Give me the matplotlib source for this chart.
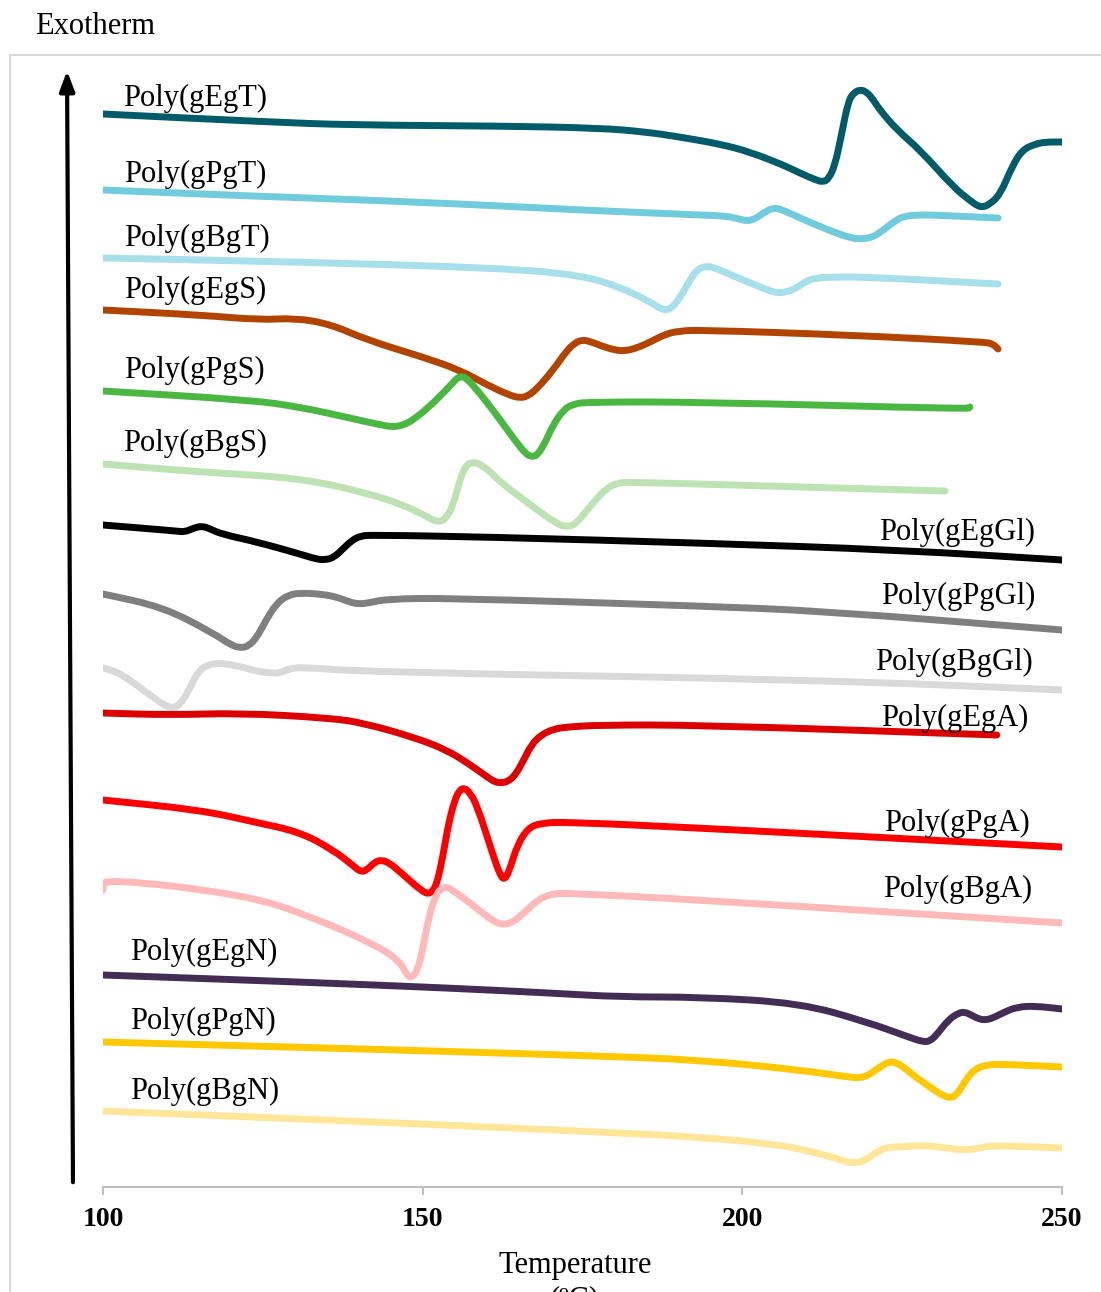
import matplotlib.pyplot as plt
from matplotlib.patches import Rectangle, PathPatch
from matplotlib.path import Path

# DSC traces, temperature (C) and vertical position (a.u., drawn downward)
gEgT_t = [100, 126.1, 138.6, 162.1, 177.7, 185.0, 190.2, 196.5, 201.2, 206.4, 209.0, 211.5, 212.6, 213.5,
          214.5, 215.5, 216.6, 217.6, 218.4, 219.2, 220.2, 221.5, 224.2, 227.8, 233.0, 235.5, 236.8,
          237.6, 238.5, 240.3, 242.3, 243.8, 245.8, 247.5, 250]
gEgT_y = [114, 122, 125, 126, 128, 132, 137, 144, 152, 165, 173, 180, 182, 179,
          165, 135, 100, 92, 90, 91, 97, 110, 130, 150, 187, 200, 206,
          207, 205, 195, 165, 150, 144, 142, 142]

gPgT_t = [100, 123.0, 149.6, 174.6, 193.4, 197.5, 199.5, 200.7, 202.0, 203.5, 204.8, 206.0, 209.0,
          214.2, 217.0, 218.4, 220.0, 221.5, 224.0, 225.5, 227.5, 229.8, 240]
gPgT_y = [190, 196, 202, 210, 215, 216, 219, 221, 219, 212, 208, 209, 218,
          232, 238, 239, 238, 233, 220, 216, 215, 215, 218]

gBgT_t = [100, 130.8, 162.1, 174.6, 180.9, 185.6, 187.3, 188.3, 189.3, 190.6, 191.8, 193.0, 194.4,
          195.8, 199.0, 203.9, 205.5, 206.9, 208.5, 210.0, 211.5, 214.0, 219.5, 240]
gBgT_y = [258, 262, 268, 275, 287, 302, 309, 310, 306, 294, 280, 269, 266,
          268, 277, 290, 293, 292, 288, 281, 278, 277, 277, 284]

gEgS_t = [100, 115.2, 124.6, 130.0, 135.5, 141.3, 150.0, 155.8, 160.1, 163.5, 165.2, 166.5, 168.0,
          170.4, 172.5, 173.8, 174.9, 176.0, 178.0, 180.0, 181.6, 183.5, 185.6, 188.0, 190.2, 193.4,
          216.8, 237.9, 239.2, 240]
gEgS_y = [310, 315, 320, 318, 324, 340, 357, 370, 385, 395, 398, 396, 388,
          370, 351, 343, 340, 341, 346, 350, 351, 348, 342, 334, 331, 330,
          335, 342, 344, 349]

gPgS_t = [100, 123.0, 130.8, 138.6, 143.5, 145.4, 147.0, 148.5, 151.0, 154.0, 155.2, 156.0, 157.0,
          158.5, 161.0, 164.4, 166.0, 167.0, 168.0, 169.2, 170.4, 172.0, 173.5, 176.0, 193.4,
          235.3, 235.6]
gPgS_y = [391, 400, 407, 418, 425, 427, 425, 420, 407, 388, 379, 376, 379,
          390, 410, 440, 453, 457, 455, 442, 425, 410, 404, 402, 402,
          409, 407]

gBgS_t = [100, 115.2, 130.8, 141.3, 147.0, 150.5, 152.2, 153.5, 154.8, 155.8, 156.8, 157.9, 158.9,
          160.5, 162.1, 167.3, 171.0, 172.6, 174.0, 176.6, 178.8, 180.5, 182.4, 209.0, 231.7]
gBgS_y = [464, 472, 478, 493, 505, 516, 522, 520, 505, 480, 465, 462, 464,
          471, 482, 507, 524, 527, 524, 503, 488, 483, 482, 487, 491]

gEgGl_t = [100, 111.5, 112.8, 114.2, 115.5, 116.8, 118.5, 124.1, 130.8, 133.3, 134.8, 136.2, 137.5,
           139.0, 140.3, 142.0, 160.1, 193.4, 224.7, 250]
gEgGl_y = [525, 531, 532, 528, 526, 529, 534, 542, 554, 559, 560, 557, 549,
           540, 536, 535, 537, 543, 550, 560]

gPgGl_t = [100, 109.4, 117.2, 120.0, 121.5, 122.8, 124.1, 125.5, 127.2, 129.0, 130.8, 134.0, 136.6,
           138.5, 140.0, 141.5, 144.4, 154.0, 193.4, 212.6, 250]
gPgGl_t = gPgGl_t
gPgGl_y = [594, 607, 633, 645, 648, 646, 637, 620, 603, 595, 593, 594, 597,
           602, 604, 603, 599, 598, 606, 611, 630]

gBgGl_t = [100, 102.7, 106.9, 109.5, 110.8, 112.0, 113.3, 114.8, 116.3, 118.0, 120.5, 124.6, 126.5,
           127.7, 129.0, 131.0, 141.3, 212.6, 250]
gBgGl_y = [668, 673, 693, 705, 708, 705, 692, 672, 665, 663, 665, 672, 673,
           673, 669, 667, 672, 680, 690]

gEgA_t = [100, 110.5, 121.4, 135.5, 140.7, 148.5, 153.8, 157.5, 160.1, 161.3, 162.3, 163.5, 164.6,
          165.8, 167.0, 168.5, 170.5, 172.6, 177.7, 193.4, 239.8]
gEgA_y = [713, 715, 713, 718, 723, 737, 750, 765, 777, 782, 783, 781, 774,
          760, 745, 735, 729, 727, 725, 725, 735]

gPgA_t = [100, 115.2, 123.7, 130.8, 136.0, 139.2, 140.3, 141.3, 142.5, 143.6, 144.8, 146.5, 150.0,
          151.2, 152.2, 153.2, 154.0, 155.0, 155.8, 156.5, 157.3, 158.5, 161.0, 162.1, 162.8,
          163.6, 164.8, 166.5, 168.5, 172.6, 193.4, 250]
gPgA_y = [800, 810, 822, 832, 850, 866, 872, 870, 862, 860, 863, 872, 892,
          894, 885, 855, 825, 800, 790, 788, 792, 805, 855, 875, 880,
          870, 845, 828, 823, 822, 828, 847]

gBgA_t = [100, 100.1, 122.5, 132.8, 143.3, 146.5, 147.5, 148.3, 149.2, 150.0, 151.0, 152.2, 153.2,
          154.3, 158.2, 161.0, 162.5, 164.2, 165.8, 168.0, 170.0, 172.6, 193.4, 250]
gBgA_y = [890, 878, 895, 917, 947, 962, 975, 978, 970, 950, 915, 893, 887,
          888, 907, 921, 925, 922, 913, 900, 894, 893, 900, 923]

gEgN_t = [100, 130.8, 154.0, 169.9, 180.9, 193.4, 209.0, 219.5, 226.0, 228.3, 229.4, 230.5, 232.2,
          233.8, 234.8, 235.8, 237.0, 238.0, 239.2, 241.0, 243.0, 245.8, 250]
gEgN_y = [975, 982, 988, 993, 997, 997, 1003, 1022, 1037, 1042, 1041, 1034, 1020,
          1013, 1012, 1015, 1019, 1020, 1018, 1012, 1007, 1006, 1009]

gPgN_t = [100, 146.5, 177.7, 193.4, 209.0, 216.5, 218.4, 219.8, 221.5, 222.8, 223.8, 225.0, 227.3,
          230.0, 231.5, 232.5, 233.5, 234.5, 235.6, 237.0, 238.5, 240.0, 250]
gPgN_y = [1042, 1050, 1056, 1060, 1070, 1077, 1078, 1075, 1067, 1062, 1062, 1066, 1078,
          1090, 1096, 1098, 1095, 1085, 1074, 1067, 1065, 1064, 1067]

gBgN_t = [100, 146.5, 177.7, 193.4, 206.4, 213.5, 216.3, 217.8, 219.3, 221.0, 222.6, 225.0, 228.3,
          233.0, 235.1, 237.0, 238.7, 242.0, 250]
gBgN_y = [1111, 1123, 1132, 1137, 1145, 1156, 1162, 1163, 1160, 1152, 1147, 1147, 1145,
          1149, 1150, 1148, 1146, 1146, 1148]

names = ['Poly(gEgT)', 'Poly(gPgT)', 'Poly(gBgT)', 'Poly(gEgS)', 'Poly(gPgS)', 'Poly(gBgS)',
         'Poly(gEgGl)', 'Poly(gPgGl)', 'Poly(gBgGl)', 'Poly(gEgA)', 'Poly(gPgA)', 'Poly(gBgA)',
         'Poly(gEgN)', 'Poly(gPgN)', 'Poly(gBgN)']
temps = [gEgT_t, gPgT_t, gBgT_t, gEgS_t, gPgS_t, gBgS_t, gEgGl_t, gPgGl_t, gBgGl_t,
         gEgA_t, gPgA_t, gBgA_t, gEgN_t, gPgN_t, gBgN_t]
sigs = [gEgT_y, gPgT_y, gBgT_y, gEgS_y, gPgS_y, gBgS_y, gEgGl_y, gPgGl_y, gBgGl_y,
        gEgA_y, gPgA_y, gBgA_y, gEgN_y, gPgN_y, gBgN_y]
colors = ['#025b69', '#70cbdd', '#a7dfea', '#b14400', '#4bb743', '#bde3b5',
          '#000000', '#7f7f7f', '#d9d9d9', '#dd0000', '#ff0000', '#ffb9b9',
          '#432d54', '#ffc800', '#ffe699']

# label anchors
lab_x = [103.1, 103.3, 103.3, 103.3, 103.3, 103.1, 245.8, 245.8, 245.5, 244.8, 245.0, 245.3, 104.3, 104.3, 104.3]
lab_y = [96, 172, 236, 288, 368, 441, 530, 594, 660, 716, 821, 887, 950, 1019, 1089]
lab_ha = ['left'] * 6 + ['right'] * 6 + ['left'] * 3

ticks = [100, 150, 200, 250]


def smooth_path(t, s):
    # excel-like smoothed line: quadratic curve segments through the midpoints
    pts = list(zip(t, s))
    verts = [pts[0], ((pts[0][0] + pts[1][0]) / 2, (pts[0][1] + pts[1][1]) / 2)]
    codes = [Path.MOVETO, Path.LINETO]
    for i in range(1, len(pts) - 1):
        nxt = pts[i + 1]
        mid = ((pts[i][0] + nxt[0]) / 2, (pts[i][1] + nxt[1]) / 2)
        verts += [pts[i], mid]
        codes += [Path.CURVE3, Path.CURVE3]
    verts.append(pts[-1])
    codes.append(Path.LINETO)
    return Path(verts, codes)


W, H = 1101, 1292
fig = plt.figure(figsize=(W / 100, H / 100), dpi=100)
ax = fig.add_axes([103 / W, (H - 1187) / H, 959 / W, (1187 - 55) / H])

for t, s, c in zip(temps, sigs, colors):
    ax.add_patch(PathPatch(smooth_path(t, s), fill=False, edgecolor=c, lw=5,
                           capstyle='round', joinstyle='round'))

for n, x, y, ha in zip(names, lab_x, lab_y, lab_ha):
    ax.text(x, y + 2, n, ha=ha, va='center', fontsize=22, family='Liberation Serif', color='black')

ax.set_xlim(100, 250)
ax.set_ylim(1187, 55)
ax.set_xticks(ticks)
ax.set_xticklabels([str(v) for v in ticks], fontsize=20, fontweight='bold', family='Liberation Serif')
ax.tick_params(axis='x', direction='out', length=6, width=1.5, color='#bfbfbf', pad=8.5)
ax.set_yticks([])
for sp in ['top', 'left', 'right']:
    ax.spines[sp].set_visible(False)
ax.spines['bottom'].set_color('#bfbfbf')
ax.spines['bottom'].set_linewidth(1.5)

# outer frame
fig.patches.append(Rectangle((10, -10), 1200, H - 55 + 10, transform=None, fill=False,
                             edgecolor='#d9d9d9', lw=1.5))

# exotherm arrow
ax.annotate('', xy=(67, H - 68), xytext=(73, H - 1185), xycoords='figure pixels',
            textcoords='figure pixels', annotation_clip=False,
            arrowprops=dict(arrowstyle='-|>,head_length=1.2,head_width=0.45', color='black', lw=3))

fig.text(35 / W, 1 - 26 / H, 'Exotherm', ha='left', va='center', fontsize=22, family='Liberation Serif')
fig.text(575 / W, 1 - 1265 / H, 'Temperature', ha='center', va='center', fontsize=22, family='Liberation Serif')
fig.text(575 / W, 1 - 1300 / H, '(ºC)', ha='center', va='center', fontsize=22, family='Liberation Serif')

fig.savefig('out.png', dpi=100)
